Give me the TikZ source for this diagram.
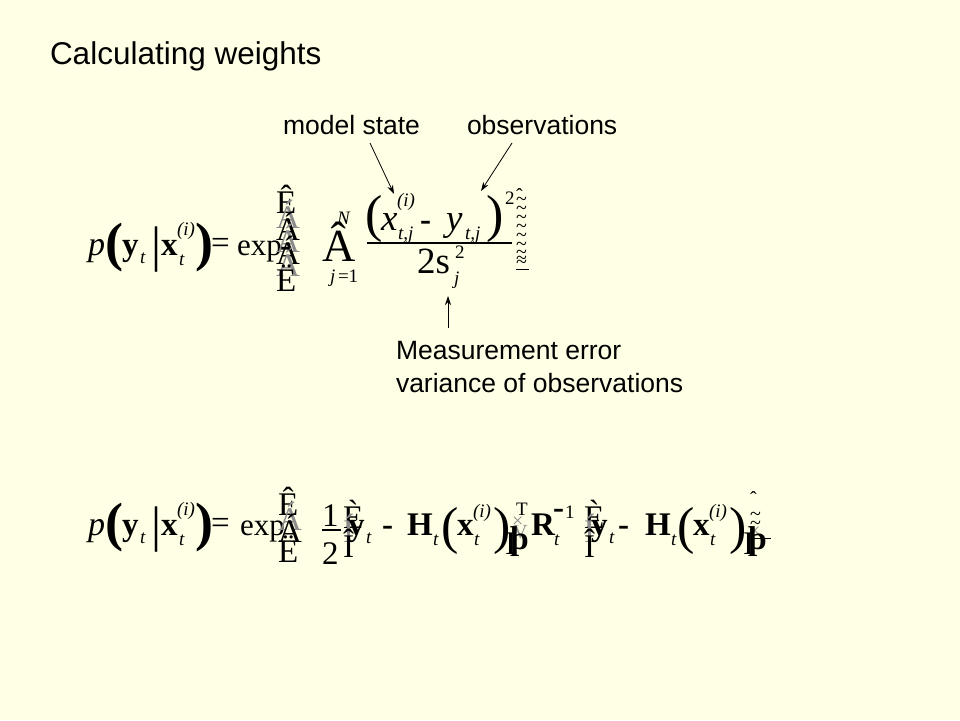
\documentclass[tikz,border=0pt]{standalone}
\usepackage{fontspec}
\setmainfont{Liberation Serif}
\setsansfont{Liberation Sans}
\usetikzlibrary{arrows.meta}
\definecolor{slidebg}{RGB}{255,255,229}
\tikzset{
  g/.style={anchor=base west, inner sep=0pt, outer sep=0pt},
  m/.style={g, font=\fontsize{33}{33}\selectfont},
  mx/.style={g, font=\fontsize{31}{31}\selectfont},
  mb/.style={g, font=\bfseries\fontsize{33}{33}\selectfont},
  mi/.style={g, font=\itshape\fontsize{34}{34}\selectfont},
  ni/.style={g, font=\itshape\fontsize{37}{37}\selectfont},
  si/.style={g, font=\itshape\fontsize{19}{19}\selectfont},
  sr/.style={g, font=\fontsize{19}{19}\selectfont},
  bp/.style={g, font=\bfseries\fontsize{54}{54}\selectfont},
  np/.style={g, font=\fontsize{52}{52}\selectfont},
  big/.style={g, font=\fontsize{46}{46}\selectfont},
  vb/.style={g, font=\fontsize{50}{50}\selectfont},
  tl/.style={g, font=\fontsize{20}{20}\selectfont},
  ghost/.style={text=black!45},
  lbl/.style={g, font=\sffamily\fontsize{26.5}{26.5}\selectfont},
  ttl/.style={g, font=\sffamily\fontsize{31.5}{31.5}\selectfont},
  arr/.style={-{Stealth[length=9pt,width=6pt]}, line width=0.8pt},
}
\begin{document}
\begin{tikzpicture}[x=1pt,y=-1pt]
\fill[slidebg] (0,0) rectangle (960,720);
\useasboundingbox (0,0) rectangle (960,720);

% title and labels
\node[ttl] (title) at (50,64) {Calculating weights};
\node[lbl] (ms) at (283,134) {model state};
\node[lbl] (obs) at (467,134) {observations};
\node[lbl] (me) at (396,359) {Measurement error};
\node[lbl] (vo) at (396,392) {variance of observations};

% ---------- equation 1 (baseline 255) ----------
\node[mi] (e1p) at (88,255) {p};
\node[bp] (e1lp) at (105,260) {(};
\node[mb] (e1y) at (122,255) {y};
\node[si] (e1yt) at (140,263) {t};
\node[vb] (e1bar) at (151,261) {|};
\node[mb] (e1x) at (161,255) {x};
\node[si] (e1xi) at (177,235) {(i)};
\node[si] (e1xt) at (179,265) {t};
\node[bp] (e1rp) at (195,260) {)};
\node[m] (e1eq) at (211,253) {=};
\node[mx] (e1exp) at (237,255) {exp};
\node[m] (e1s1) at (276,213) {Ê};
\node[m,ghost] (e1s2) at (276,228) {Á};
\node[m] (e1s3) at (276,240) {Á};
\node[m,ghost] (e1s4) at (276,252) {Á};
\node[m] (e1s5) at (276,264) {Á};
\node[m,ghost] (e1s6) at (276,276) {Á};
\node[mb] (e1min) at (280,256) {-};
\node[m] (e1s7) at (276,291) {Ë};
\node[big] (e1sum) at (322,261) {Â};
\node[si] (e1sup) at (337,224) {N};
\node[si] (e1lim) at (330,282) {j};
\node[sr] (e1lim2) at (338,282) {=1};
% numerator
\node[np] (e1nlp) at (365,231) {(};
\node[ni] (e1nx) at (381,230) {x};
\node[si] (e1nxi) at (397,206) {(i)};
\node[si] (e1nxs) at (398,239) {t,j};
\node[mb] (e1nmin) at (420,230) {-};
\node[ni] (e1ny) at (446,230) {y};
\node[si] (e1nys) at (465,239) {t,j};
\node[np] (e1nrp) at (486,231) {)};
\node[sr] (e1nsq) at (505,204) {2};
\coordinate (fb1) at (367,243);
\coordinate (fb2) at (512,243);
\draw[line width=1.4pt] (fb1) -- (fb2);
% denominator
\node[ni,font=\fontsize{37}{37}\selectfont] (e1d2) at (417,273) {2s};
\node[sr] (e1dsq) at (455,258) {2};
\node[si] (e1dj) at (454,284) {j};
% tilde column
\node[tl] (e1c0) at (516,202) {ˆ};
\node[tl] (e1c1) at (516,205) {\char`~};
\node[tl] (e1c2) at (516,214) {\char`~};
\node[tl] (e1c3) at (516,223) {\char`~};
\node[tl] (e1c4) at (516,232) {\char`~};
\node[tl] (e1c5) at (516,241) {\char`~};
\node[tl] (e1c6) at (516,250) {\char`~};
\node[tl] (e1c7) at (516,258) {\char`~};
\node[tl] (e1c8) at (516,266) {≈};
\coordinate (ul1) at (516,269);
\coordinate (ul2) at (529,269);
\draw[line width=0.8pt] (ul1) -- (ul2);

% arrows
\coordinate (a1s) at (370,143);
\coordinate (a1e) at (394,194);
\coordinate (a2s) at (512,143);
\coordinate (a2e) at (481,191);
\coordinate (a3s) at (448,328);
\coordinate (a3e) at (448,296);
\draw[arr] (a1s) -- (a1e);
\draw[arr] (a2s) -- (a2e);
\draw[arr] (a3s) -- (a3e);

% ---------- equation 2 (baseline 535) ----------
\node[mi] (e2p) at (88,535) {p};
\node[bp] (e2lp) at (105,540) {(};
\node[mb] (e2y) at (122,535) {y};
\node[si] (e2yt) at (140,543) {t};
\node[vb] (e2bar) at (151,541) {|};
\node[mb] (e2x) at (161,535) {x};
\node[si] (e2xi) at (177,515) {(i)};
\node[si] (e2xt) at (179,545) {t};
\node[bp] (e2rp) at (195,540) {)};
\node[m] (e2eq) at (211,533) {=};
\node[mx] (e2exp) at (240,535) {exp};
\node[m] (e2s1) at (278,515) {Ê};
\node[m,ghost] (e2s2) at (278,530) {Á};
\node[m] (e2s3) at (278,542) {Á};
\node[m] (e2s4) at (278,562) {Ë};
% 1/2
\node[m] (e2one) at (322,526) {1};
\coordinate (hb1) at (322,530);
\coordinate (hb2) at (341,530);
\draw[line width=1.2pt] (hb1) -- (hb2);
\node[m] (e2two) at (322,564) {2};
% bracket stack 1
\node[m] (e2b1) at (343,528) {È};
\node[m,ghost] (e2b2) at (343,542) {Í};
\node[m] (e2b3) at (343,557) {Î};
\node[mb] (e2y2) at (348,535) {y};
\node[si] (e2y2t) at (366,543) {t};
\node[mb] (e2min1) at (382,535) {-};
\node[mb] (e2H1) at (407,535) {H};
\node[si] (e2H1t) at (433,545) {t};
\node[np] (e2lp1) at (441,543) {(};
\node[mb] (e2x1) at (457,535) {x};
\node[si] (e2x1i) at (473,517) {(i)};
\node[si] (e2x1t) at (474,545) {t};
\node[np] (e2rp1) at (493,543) {)};
% stack after first )
\node[sr] (e2T) at (516,515) {T};
\node[tl,ghost] (e2k1) at (512,527) {×};
\node[tl,ghost] (e2k2) at (513,538) {V};
\node[m] (e2k3) at (505,554) {I};
\node[mb] (e2k4) at (510,549) {þ};
\node[mb] (e2R) at (531,535) {R};
\node[si] (e2Rt) at (554,545) {t};
\node[mb] (e2Rm) at (553,518) {-};
\node[sr] (e2R1) at (565,518) {1};
% bracket stack 2
\node[m] (e2b4) at (584,528) {È};
\node[m,ghost] (e2b5) at (584,542) {Í};
\node[m] (e2b6) at (584,557) {Î};
\node[mb] (e2y3) at (591,535) {y};
\node[si] (e2y3t) at (609,543) {t};
\node[mb] (e2min2) at (618,535) {-};
\node[mb] (e2H2) at (645,535) {H};
\node[si] (e2H2t) at (671,545) {t};
\node[np] (e2lp2) at (677,543) {(};
\node[mb] (e2x2) at (693,535) {x};
\node[si] (e2x2i) at (709,517) {(i)};
\node[si] (e2x2t) at (710,545) {t};
\node[np] (e2rp2) at (729,543) {)};
% stack after second )
\node[tl] (e2c0) at (750,505) {ˆ};
\node[tl] (e2c1) at (750,520) {\char`~};
\node[tl] (e2c2) at (750,529) {\char`~};
\node[tl,ghost] (e2c3) at (749,537) {×};
\node[m] (e2c4) at (743,554) {I};
\node[mb] (e2c5) at (748,549) {þ};
\coordinate (ml1) at (749,538);
\coordinate (ml2) at (771,538);
\draw[line width=0.8pt] (ml1) -- (ml2);
\end{tikzpicture}
\end{document}
